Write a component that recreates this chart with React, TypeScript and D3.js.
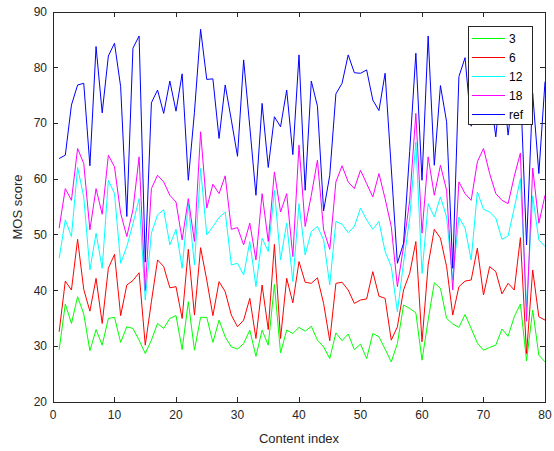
import React from "react";
import * as d3 from "d3";

const contentIndex = d3.range(1, 81);
const mos3 = [29.4,37.6,34.1,38.9,35.8,29.2,33.0,30.2,35.0,35.2,30.7,33.5,33.2,31.1,28.7,31.1,34.1,33.2,35.0,35.5,29.4,38.0,29.3,35.2,35.2,30.7,34.7,31.7,29.9,29.5,30.5,32.9,28.2,32.9,30.2,41.1,28.8,32.9,32.3,33.4,32.7,33.6,31.1,29.9,27.8,32.4,31.0,32.2,29.4,30.4,27.8,32.3,31.7,29.5,27.2,30.5,37.4,36.8,36.0,27.5,34.7,41.4,40.4,35.0,34.0,33.4,35.7,33.2,30.6,29.3,29.8,30.2,33.1,31.8,35.3,37.6,27.4,36.5,28.4,27.2];
const mos6 = [32.6,41.7,40.1,49.2,40.2,36.3,42.2,34.1,44.0,46.5,35.5,41.0,41.8,43.2,30.2,38.0,45.5,44.3,40.5,40.7,35.0,47.4,35.6,47.7,41.9,35.5,41.6,39.8,35.6,33.5,34.7,38.6,31.4,41.0,33.0,48.3,31.4,42.2,37.8,45.2,41.5,41.3,42.3,37.7,31.0,41.3,41.5,40.1,37.7,38.3,38.5,43.4,39.0,38.6,31.1,33.5,40.1,43.1,48.8,30.8,44.6,51.0,49.4,44.3,35.6,40.7,41.7,41.9,47.6,39.2,44.3,43.4,39.4,41.3,40.1,49.5,28.7,43.7,35.3,34.7];
const mos12 = [45.8,52.7,49.7,62.1,56.8,43.7,50.3,44.0,59.8,57.4,44.9,47.9,52.0,56.5,38.3,50.3,53.6,54.5,48.2,51.0,44.0,55.6,44.6,61.9,50.0,51.5,53.1,54.1,44.6,44.9,42.8,48.8,40.7,49.4,47.0,58.0,45.5,52.1,41.6,55.6,46.4,50.6,51.5,49.1,41.0,52.4,51.9,50.4,51.5,54.8,52.7,51.0,52.4,47.0,44.3,36.2,45.0,53.0,66.7,43.1,55.6,53.2,56.8,53.2,42.0,53.2,51.2,45.5,57.7,54.6,54.1,53.0,49.2,49.8,54.8,60.1,37.0,57.0,49.1,47.9];
const mos18 = [51.2,58.3,56.2,65.5,62.8,50.9,58.3,53.7,64.3,62.2,53.9,49.7,54.5,64.0,40.0,58.3,60.7,59.5,57.1,55.9,49.1,56.5,48.8,68.5,54.8,59.1,57.4,60.6,51.0,51.3,48.2,52.1,45.5,57.4,48.8,61.3,54.1,57.4,46.1,66.1,51.5,57.1,63.4,50.9,47.4,59.5,62.4,59.5,58.3,61.6,59.2,56.8,61.0,56.5,51.5,40.7,47.9,56.2,71.8,50.3,64.0,57.1,62.5,58.0,40.1,59.5,57.4,56.2,63.1,65.5,61.0,57.4,56.2,55.6,60.5,64.7,34.5,62.0,52.1,57.1];
const mosRef = [63.7,64.3,73.3,76.9,77.2,62.4,83.8,71.9,82.1,84.4,76.6,53.3,83.5,85.7,45.1,73.7,76.0,71.8,77.6,72.2,78.9,59.8,72.0,86.9,77.9,78.0,67.3,76.9,70.6,64.1,81.4,69.4,57.1,73.6,62.1,71.2,69.4,76.0,64.4,82.3,58.0,77.6,73.1,54.3,60.7,75.3,77.2,82.3,79.1,79.0,79.6,74.2,72.3,79.0,62.0,44.9,48.5,65.0,82.6,59.8,85.7,62.5,76.8,70.3,44.0,78.4,81.8,69.5,78.0,80.0,76.0,67.6,79.0,67.9,77.0,77.0,48.2,75.4,61.0,77.5];

const seriesNames = ["3", "6", "12", "18", "ref"];
const seriesData = [mos3, mos6, mos12, mos18, mosRef];
const seriesColors = ["#00ff00", "#ff0000", "#00ffff", "#ff00ff", "#0000ff"];
const xTicks = [0, 10, 20, 30, 40, 50, 60, 70, 80];
const yTicks = [20, 30, 40, 50, 60, 70, 80, 90];

export default function App() {
  const W = 554, H = 451;
  const L = 53, R = 545, T = 12, B = 402;
  const x = d3.scaleLinear().domain([0, 80]).range([L, R]);
  const y = d3.scaleLinear().domain([20, 90]).range([B, T]);
  const line = d3.line<number>().x((_, i) => x(contentIndex[i])).y((d) => y(d));
  const axisColor = "#262626";
  const font = "'Liberation Sans', Arial, Helvetica, sans-serif";
  const tl = 5;
  const lg = { x: 468, y: 26.5, w: 64, h: 97.5 };
  return (
    <svg width={W} height={H} style={{ position: "absolute", left: 0, top: 0 }} fontFamily={font}>
      <rect x={0} y={0} width={W} height={H} fill="#fff" />
      <rect x={L} y={T} width={R - L} height={B - T} fill="#fff" />
      {seriesData.map((d, k) => (
        <path key={k} d={line(d) || ""} fill="none" stroke={seriesColors[k]} strokeWidth={1} />
      ))}
      {/* axes box */}
      <rect x={L} y={T} width={R - L} height={B - T} fill="none" stroke={axisColor} strokeWidth={1} shapeRendering="crispEdges" />
      {xTicks.map((t) => (
        <g key={"x" + t} shapeRendering="crispEdges">
          <line x1={x(t)} x2={x(t)} y1={B} y2={B - tl} stroke={axisColor} />
          <line x1={x(t)} x2={x(t)} y1={T} y2={T + tl} stroke={axisColor} />
          <text x={x(t)} y={B + 17} fontSize={12} textAnchor="middle" fill={axisColor}>{t}</text>
        </g>
      ))}
      {yTicks.map((t) => (
        <g key={"y" + t} shapeRendering="crispEdges">
          <line x1={L} x2={L + tl} y1={y(t)} y2={y(t)} stroke={axisColor} />
          <line x1={R} x2={R - tl} y1={y(t)} y2={y(t)} stroke={axisColor} />
          <text x={L - 6} y={y(t) + 4} fontSize={12} textAnchor="end" fill={axisColor}>{t}</text>
        </g>
      ))}
      <text x={(L + R) / 2} y={443} fontSize={13} textAnchor="middle" fill={axisColor}>Content index</text>
      <text transform={`translate(22,${(T + B) / 2}) rotate(-90)`} fontSize={13} textAnchor="middle" fill={axisColor}>MOS score</text>
      {/* legend */}
      <rect x={lg.x} y={lg.y} width={lg.w} height={lg.h} fill="#fff" stroke={axisColor} strokeWidth={1} shapeRendering="crispEdges" />
      {seriesNames.map((n, k) => {
        const yy = lg.y + 12 + k * 19;
        return (
          <g key={n}>
            <line x1={lg.x + 4} x2={lg.x + 37} y1={yy} y2={yy} stroke={seriesColors[k]} strokeWidth={1} />
            <text x={lg.x + 41} y={yy + 4} fontSize={12} fill="#000">{n}</text>
          </g>
        );
      })}
    </svg>
  );
}
